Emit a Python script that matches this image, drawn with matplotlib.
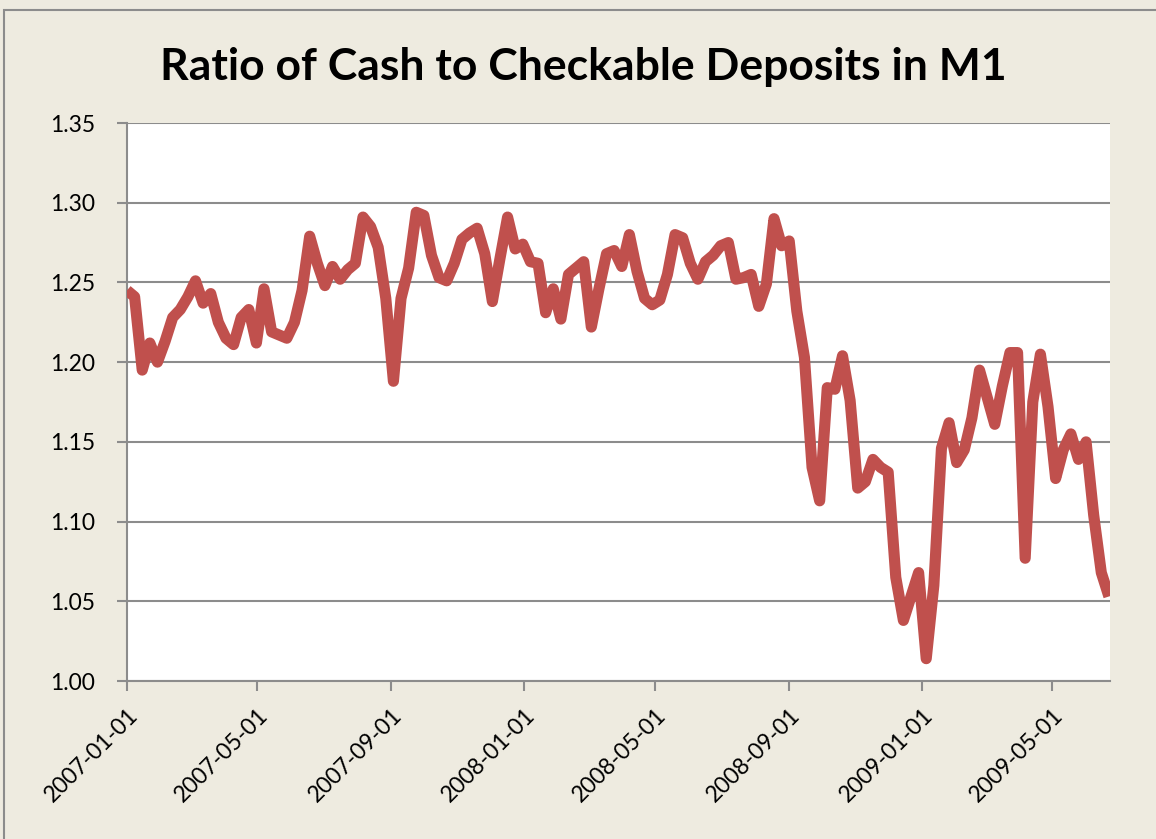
import matplotlib
matplotlib.use("Agg")
import matplotlib.pyplot as plt
from matplotlib.patches import Rectangle
import pandas as pd

plt.rcParams['font.family'] = ['Lato', 'DejaVu Sans']

title = "Ratio of Cash to Checkable Deposits in M1"
start_date = "2007-01-01"
n_weeks = 130
ratio = [
    1.245, 1.241, 1.195, 1.212, 1.200, 1.213, 1.228, 1.233, 1.241, 1.251,
    1.237, 1.243, 1.225, 1.215, 1.211, 1.228, 1.233, 1.212, 1.246, 1.219,
    1.217, 1.215, 1.225, 1.245, 1.279, 1.262, 1.248, 1.260, 1.252, 1.258,
    1.262, 1.291, 1.285, 1.272, 1.240, 1.188, 1.240, 1.259, 1.294, 1.292,
    1.267, 1.253, 1.251, 1.262, 1.277, 1.281, 1.284, 1.268, 1.238, 1.265,
    1.291, 1.271, 1.274, 1.263, 1.262, 1.231, 1.246, 1.227, 1.255, 1.259,
    1.263, 1.222, 1.246, 1.268, 1.270, 1.260, 1.280, 1.257, 1.240, 1.236,
    1.239, 1.255, 1.280, 1.278, 1.262, 1.252, 1.263, 1.267, 1.273, 1.275,
    1.252, 1.253, 1.255, 1.235, 1.249, 1.290, 1.273, 1.276, 1.232, 1.203,
    1.134, 1.113, 1.184, 1.183, 1.204, 1.176, 1.121, 1.125, 1.139, 1.134,
    1.131, 1.065, 1.038, 1.053, 1.068, 1.014, 1.060, 1.146, 1.162, 1.137,
    1.145, 1.165, 1.195, 1.178, 1.161, 1.185, 1.206, 1.206, 1.077, 1.175,
    1.205, 1.172, 1.127, 1.145, 1.155, 1.139, 1.150, 1.104, 1.068, 1.053,
]
x_ticks = ["2007-01-01", "2007-05-01", "2007-09-01", "2008-01-01",
           "2008-05-01", "2008-09-01", "2009-01-01", "2009-05-01"]
y_ticks = [1.00, 1.05, 1.10, 1.15, 1.20, 1.25, 1.30, 1.35]

dates = pd.date_range(start_date, periods=n_weeks, freq="7D")

W, H = 1156, 839
fig = plt.figure(figsize=(W / 100, H / 100), dpi=100)
bg = "#EEEBE0"
fig.patch.set_facecolor(bg)

# outer chart border
fig.patches.append(Rectangle((4 / W, -0.05), 1.1, 1.05 - 10 / H, transform=fig.transFigure,
                             fill=False, edgecolor="#8c8c8c", linewidth=1.5, zorder=0))

L, R, T, B = 127, 1110, 123, 681
ax = fig.add_axes([L / W, 1 - B / H, (R - L) / W, (B - T) / H])
ax.set_facecolor("white")

ax.plot(dates, ratio, color="#C0504D", linewidth=8, solid_joinstyle="round",
        solid_capstyle="butt", zorder=3)

ax.set_ylim(1.00, 1.35)
ax.set_yticks(y_ticks)
ax.set_yticklabels([f"{v:.2f}" for v in y_ticks], fontsize=16.5)
ax.set_xlim(pd.Timestamp(start_date), pd.Timestamp("2009-06-23"))
ax.set_xticks(pd.to_datetime(x_ticks))
ax.set_xticklabels(x_ticks, fontsize=16.5, rotation=45, ha="right", va="top",
                   rotation_mode="anchor")

ax.yaxis.grid(True, color="#8c8c8c", linewidth=1.5)
ax.set_axisbelow(True)
for s in ["top", "right"]:
    ax.spines[s].set_visible(False)
for s in ["left", "bottom"]:
    ax.spines[s].set_color("#8c8c8c")
    ax.spines[s].set_linewidth(1.5)
ax.tick_params(axis="both", direction="out", length=7, width=1.5, color="#8c8c8c",
               labelcolor="black")
ax.tick_params(axis="x", pad=10)
ax.tick_params(axis="y", pad=16)

fig.text(0.505, 1 - 80 / H, title, ha="center", va="baseline", fontsize=32,
         fontweight="bold")

fig.savefig("out.png", dpi=100, facecolor=fig.get_facecolor())
